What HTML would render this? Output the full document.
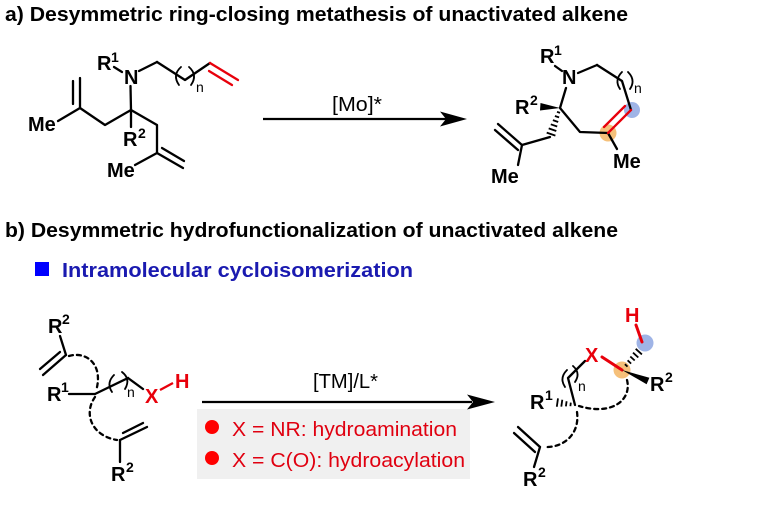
<!DOCTYPE html>
<html><head><meta charset="utf-8"><style>
html,body{margin:0;padding:0;background:#fff;}
svg{display:block;}
text{font-family:"Liberation Sans",Arial,sans-serif;}
.b{font-weight:bold;font-size:20px;fill:#000;}
.s{font-weight:bold;font-size:14px;fill:#000;}
.n{font-size:14px;fill:#000;}
.r{fill:#e8000b;}
</style></head><body>
<svg width="762" height="509" viewBox="0 0 762 509" xmlns="http://www.w3.org/2000/svg">
<rect width="762" height="509" fill="#fff"/>

<!-- Titles -->
<text x="5" y="21" font-size="20" font-weight="bold" textLength="623" lengthAdjust="spacingAndGlyphs">a) Desymmetric ring-closing metathesis of unactivated alkene</text>
<text x="5" y="237" font-size="20" font-weight="bold" textLength="613" lengthAdjust="spacingAndGlyphs">b) Desymmetric hydrofunctionalization of unactivated alkene</text>
<rect x="35" y="262" width="14" height="14" fill="#0000ff"/>
<text x="62" y="277" font-size="20" font-weight="bold" fill="#1a1ab0" textLength="351" lengthAdjust="spacingAndGlyphs">Intramolecular cycloisomerization</text>

<g stroke="#000" stroke-width="2.3" fill="none" stroke-linecap="round" stroke-linejoin="round">
<!-- ===== a-left ===== -->
<line x1="114" y1="67" x2="122" y2="72"/>
<line x1="139" y1="71" x2="157" y2="62"/>
<polyline points="157,62 185,80 210,63"/>
<path d="M181,67 Q172,75 179,85" stroke-width="1.8"/>
<path d="M189,67 Q198,75 191,85" stroke-width="1.8"/>
<line x1="130.5" y1="86" x2="131" y2="110"/>
<line x1="131" y1="110" x2="131" y2="127"/>
<polyline points="131,110 105,125 80,108"/>
<line x1="80" y1="108" x2="80" y2="78"/>
<line x1="73" y1="81" x2="73" y2="104"/>
<line x1="80" y1="108" x2="58" y2="121"/>
<polyline points="131,110 157,125 157,153"/>
<line x1="157" y1="153" x2="183" y2="168"/>
<line x1="162" y1="148" x2="184" y2="161"/>
<line x1="157" y1="153" x2="135" y2="165"/>
</g>
<g stroke="#e8000b" stroke-width="2.3" stroke-linecap="round">
<line x1="210" y1="63" x2="238" y2="80"/>
<line x1="209" y1="71" x2="232" y2="85"/>
</g>
<text class="b" x="97" y="70">R</text><text class="s" x="111" y="62">1</text>
<text class="b" x="124" y="84">N</text>
<text class="n" x="196" y="92">n</text>
<text class="b" x="28" y="131">Me</text>
<text class="b" x="123" y="146">R</text><text class="s" x="138" y="138">2</text>
<text class="b" x="107" y="177">Me</text>

<!-- arrow a -->
<line x1="263" y1="119" x2="446" y2="119" stroke="#000" stroke-width="2.3"/>
<polygon points="467,119 440,111.5 446,119 440,126.5" fill="#000"/>
<text x="332" y="111" font-size="20" textLength="50" lengthAdjust="spacingAndGlyphs">[Mo]*</text>

<!-- ===== a-product ===== -->
<circle cx="632" cy="110" r="8" fill="#9fb4e6"/>
<circle cx="608" cy="133" r="8.5" fill="#f5c07a"/>
<g stroke="#000" stroke-width="2.3" fill="none" stroke-linecap="round" stroke-linejoin="round">
<line x1="555" y1="66" x2="562" y2="71"/>
<line x1="578" y1="73" x2="597" y2="65"/>
<polyline points="597,65 622,81 631,110"/>
<path d="M622,72 Q614,80 620,89" stroke-width="1.8"/>
<path d="M628,72 Q636,80 630,89" stroke-width="1.8"/>
<line x1="608" y1="133" x2="617" y2="149"/>
<polyline points="608,133 580,132 560,108 566,88"/>
<line x1="550" y1="137" x2="522" y2="145"/>
<line x1="522" y1="145" x2="498" y2="124"/>
<line x1="518" y1="150" x2="495" y2="130"/>
<line x1="522" y1="145" x2="518" y2="165"/>
</g>
<g stroke="#e8000b" stroke-width="2.3" stroke-linecap="round">
<line x1="631" y1="110" x2="608" y2="133"/>
<line x1="625" y1="106" x2="604" y2="127"/>
</g>
<polygon points="560,108 540.5,103 540,110.5" fill="#000"/>
<g stroke="#000" stroke-width="1.8">
<line x1="557" y1="111.8" x2="560" y2="112.9"/>
<line x1="554.9" y1="116" x2="559.1" y2="117.4"/>
<line x1="552.9" y1="120.1" x2="558.2" y2="122"/>
<line x1="550.8" y1="124.3" x2="557.2" y2="126.5"/>
<line x1="548.7" y1="128.4" x2="556.3" y2="131"/>
<line x1="546.7" y1="132.6" x2="555.4" y2="135.6"/>
</g>
<text class="b" x="540" y="63">R</text><text class="s" x="554" y="55">1</text>
<text class="b" x="562" y="84">N</text>
<text class="n" x="634" y="93">n</text>
<text class="b" x="515" y="114">R</text><text class="s" x="530" y="105">2</text>
<text class="b" x="613" y="168">Me</text>
<text class="b" x="491" y="183">Me</text>

<!-- ===== b-left ===== -->
<g stroke="#000" stroke-width="2.3" fill="none" stroke-linecap="round" stroke-linejoin="round">
<line x1="60" y1="336" x2="66" y2="355"/>
<line x1="66" y1="355" x2="43" y2="375"/>
<line x1="60" y1="352" x2="40" y2="369"/>
<line x1="69" y1="394" x2="95" y2="394"/>
<line x1="95" y1="394" x2="128" y2="378"/>
<line x1="128" y1="378" x2="143" y2="389"/>
<path d="M114,375 Q106,383 112,392" stroke-width="1.8"/>
<path d="M122,372 Q131,379 125,389" stroke-width="1.8"/>
<line x1="120" y1="440" x2="147" y2="427"/>
<line x1="123" y1="433" x2="143" y2="423"/>
<line x1="120" y1="440" x2="120" y2="462"/>
<path d="M69,356 C86,351 104,364 96,391" stroke-dasharray="4,4"/>
<path d="M95,397 C83,414 92,436 117,440" stroke-dasharray="4,4"/>
</g>
<line x1="160" y1="390" x2="173" y2="383" stroke="#e8000b" stroke-width="2.3"/>
<text class="b" x="48" y="333">R</text><text class="s" x="62" y="324">2</text>
<text class="b" x="47" y="401">R</text><text class="s" x="61" y="392">1</text>
<text class="n" x="127" y="397">n</text>
<text class="b r" x="145" y="403">X</text>
<text class="b r" x="175" y="388">H</text>
<text class="b" x="111" y="481">R</text><text class="s" x="126" y="472">2</text>

<!-- arrow b -->
<rect x="197" y="409" width="273" height="70" fill="#f0f0f0"/>
<line x1="202" y1="402" x2="472" y2="402" stroke="#000" stroke-width="2.3"/>
<polygon points="495,402 467,394.5 473,402 467,409.5" fill="#000"/>
<text x="313" y="388" font-size="20" textLength="65" lengthAdjust="spacingAndGlyphs">[TM]/L*</text>
<circle cx="212" cy="427" r="7" fill="#ff0000"/>
<circle cx="212" cy="458" r="7" fill="#ff0000"/>
<text x="232" y="436" font-size="20" fill="#e00010" textLength="225" lengthAdjust="spacingAndGlyphs">X = NR: hydroamination</text>
<text x="232" y="467" font-size="20" fill="#e00010" textLength="233" lengthAdjust="spacingAndGlyphs">X = C(O): hydroacylation</text>

<!-- ===== b-right ===== -->
<circle cx="645" cy="343" r="8.5" fill="#9fb4e6"/>
<circle cx="622" cy="370" r="8.5" fill="#f5c07a"/>
<g stroke="#e8000b" stroke-width="3" stroke-linecap="round">
<line x1="636" y1="325" x2="642" y2="342"/>
<line x1="602" y1="357" x2="622" y2="370"/>
</g>
<g stroke="#000" stroke-width="1.8">
<line x1="624.9" y1="364.2" x2="627.5" y2="366.6"/>
<line x1="627.6" y1="360.3" x2="631.1" y2="363.6"/>
<line x1="630.3" y1="356.5" x2="634.7" y2="360.5"/>
<line x1="633" y1="352.6" x2="638.3" y2="357.5"/>
<line x1="635.7" y1="348.8" x2="641.9" y2="354.4"/>
<line x1="570.8" y1="402.6" x2="570.4" y2="406.2"/>
<line x1="566.6" y1="401.2" x2="565.9" y2="406.4"/>
<line x1="562.3" y1="399.8" x2="561.3" y2="406.6"/>
<line x1="558" y1="398.4" x2="556.8" y2="406.8"/>
</g>
<polygon points="622,370 649.4,377.8 646.6,384.2" fill="#000"/>
<g stroke="#000" stroke-width="2.3" fill="none" stroke-linecap="round" stroke-linejoin="round">
<polyline points="575,405 568,378 585,361"/>
<path d="M567,370 Q559,378 565,387" stroke-width="1.8"/>
<path d="M573,366 Q581,373 575,382" stroke-width="1.8"/>
<line x1="540" y1="447" x2="518" y2="427"/>
<line x1="535" y1="452" x2="514" y2="433"/>
<line x1="540" y1="447" x2="534" y2="467"/>
<path d="M627,380 C632,400 612,416 579,406" stroke-dasharray="4,4"/>
<path d="M577,412 C580,434 564,448 544,447" stroke-dasharray="4,4"/>
</g>
<text class="b r" x="625" y="322">H</text>
<text class="b r" x="585" y="362">X</text>
<text class="b" x="650" y="391">R</text><text class="s" x="665" y="382">2</text>
<text class="n" x="578" y="391">n</text>
<text class="b" x="530" y="409">R</text><text class="s" x="545" y="400">1</text>
<text class="b" x="523" y="486">R</text><text class="s" x="538" y="477">2</text>
</svg>
</body></html>
